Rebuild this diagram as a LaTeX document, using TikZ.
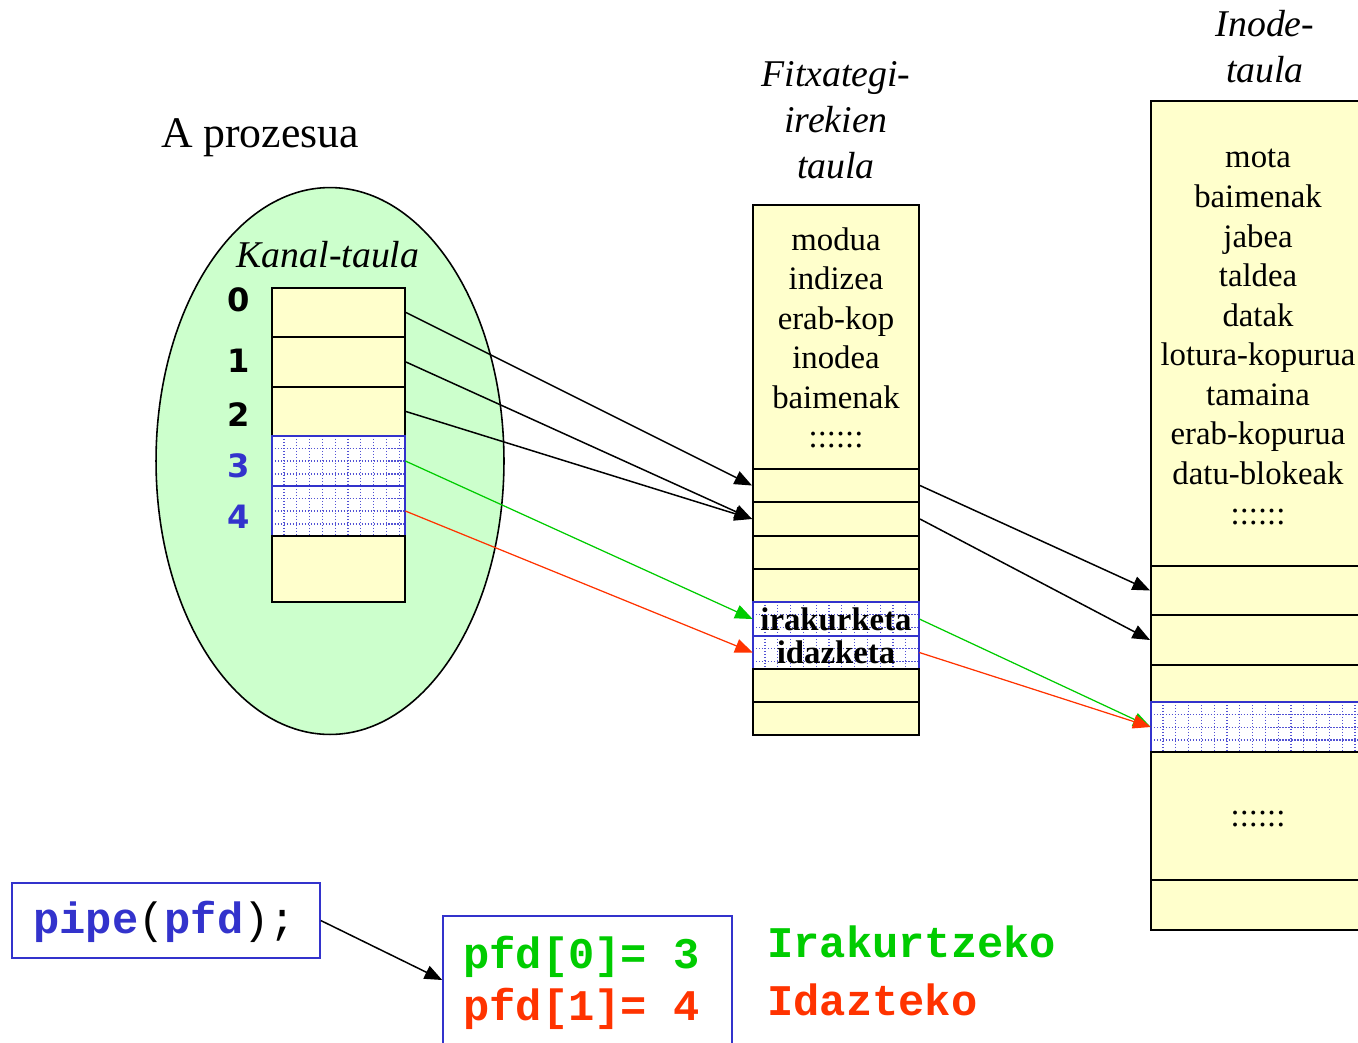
\documentclass[tikz,border=0pt]{standalone}
\usepackage{fontspec}
\setmainfont{Liberation Serif}
\newfontfamily\codefont{Liberation Mono}
\newfontfamily\idxfont{DejaVu Sans}
\usetikzlibrary{arrows.meta,fit,shapes.geometric}

\definecolor{cellyellow}{HTML}{FFFFCC}
\definecolor{procgreen}{HTML}{CCFFCC}
\definecolor{kblue}{HTML}{3333CC}
\definecolor{kgreen}{HTML}{00CC00}
\definecolor{kred}{HTML}{FF3300}

\tikzset{
  cell/.style={draw=black, line width=1.1pt, fill=cellyellow, inner sep=0pt},
  hcellfill/.style={fill=white, inner sep=0pt},
  hcellborder/.style={draw=kblue, line width=1.1pt},
  hatchline/.style={draw=kblue!85, line width=0.7pt, dash pattern=on 0.8pt off 0.9pt},
  link/.style={line width=0.85pt, -{Triangle[length=10pt,width=8pt]}},
  readlink/.style={link, draw=kgreen, fill=kgreen, line width=0.7pt},
  writelink/.style={link, draw=kred, fill=kred, line width=0.7pt},
  codebox/.style={draw=kblue, line width=0.9pt, fill=white, inner sep=0pt},
  tabletext/.style={font=\fontsize{18.66pt}{22.53pt}\selectfont, align=center, inner sep=0pt, anchor=north},
  titletext/.style={font=\fontsize{21.5pt}{26.18pt}\selectfont\itshape, align=center, inner sep=0pt, anchor=north},
  idx/.style={font=\idxfont\bfseries\fontsize{18.3pt}{22pt}\selectfont, inner sep=0pt},
  code/.style={font=\codefont\bfseries\fontsize{24.9pt}{30pt}\selectfont, inner sep=0pt, anchor=base west},
}

% a table cell filled with a dotted blue grid
\newcommand\hatchedcell[5]{%
  \node[hcellfill, fit={(#2,#3) (#4,#5)}] (#1) {};
  \begin{scope}
    \clip (#2,#3) rectangle (#4,#5);
    \foreach \gi in {1,...,20} {
      \draw[hatchline] ({#2+12.8*\gi-0.8},#3) -- ({#2+12.8*\gi-0.8},#5);
    }
    \foreach \gj in {1,...,4} {
      \draw[hatchline] (#2,{#3+12.8*\gj-0.5}) -- (#4,{#3+12.8*\gj-0.5});
    }
  \end{scope}
  \draw[hcellborder] (#1.north west) rectangle (#1.south east);
}

\begin{document}
\begin{tikzpicture}[x=0.02cm, y=-0.02cm]
\clip (0,0) rectangle (1358,1042);
\fill[white] (0,0) rectangle (1358,1042);

% ---------- process with its channel table ----------
\node[font=\fontsize{24.9pt}{30pt}\selectfont, inner sep=0pt, anchor=base] (ptitle) at (260,147) {A prozesua};
\node[ellipse, draw=black, line width=0.9pt, fill=procgreen, minimum width=6.96cm, minimum height=10.94cm, inner sep=0pt] (proc) at (330,461) {};
\node[font=\fontsize{21.5pt}{26pt}\selectfont\itshape, inner sep=0pt, anchor=base] (ktitle) at (328,267) {Kanal-taula};

\node[cell, fit={(272,288) (405,337)}] (k0) {};
\node[cell, fit={(272,337) (405,387)}] (k1) {};
\node[cell, fit={(272,387) (405,436)}] (k2) {};
\hatchedcell{k3}{272}{436}{405}{486}
\hatchedcell{k4}{272}{486}{405}{536}
\node[cell, fit={(272,536) (405,602)}] (k5) {};

\node[idx] (l0) at (239,300) {0};
\node[idx] (l1) at (239,361) {1};
\node[idx] (l2) at (239,415) {2};
\node[idx, text=kblue] (l3) at (239,466) {3};
\node[idx, text=kblue] (l4) at (239,517) {4};

% ---------- open file table ----------
\node[titletext] (ftitle) at (836,53.8) {\strut Fitxategi-\\irekien\\taula};
\node[cell, fit={(753,205) (919,469)}] (fhead) {};
\node[tabletext] (ftext) at (836,222) {\strut modua\\indizea\\erab-kop\\inodea\\baimenak\\::::::};
\node[cell, fit={(753,469) (919,502)}] (f0) {};
\node[cell, fit={(753,502) (919,536)}] (f1) {};
\node[cell, fit={(753,536) (919,569)}] (f2) {};
\node[cell, fit={(753,569) (919,602)}] (f3) {};
\hatchedcell{f4}{753}{602}{919}{636}
\hatchedcell{f5}{753}{636}{919}{669}
\node[cell, fit={(753,669) (919,702)}] (f6) {};
\node[cell, fit={(753,702) (919,735)}] (f7) {};
\node[font=\fontsize{18.66pt}{22pt}\selectfont\bfseries, inner sep=0pt] (rd) at (f4.center) {irakurketa};
\node[font=\fontsize{18.66pt}{22pt}\selectfont\bfseries, inner sep=0pt] (wr) at (f5.center) {idazketa};

% ---------- inode table ----------
\node[titletext] (ititle) at (1265,3.8) {\strut Inode-\\taula};
\node[cell, fit={(1151,101) (1366,566)}] (ihead) {};
\node[tabletext] (itext) at (1258,139.8) {\strut mota\\baimenak\\jabea\\taldea\\datak\\lotura-kopurua\\tamaina\\erab-kopurua\\datu-blokeak\\::::::};
\node[cell, fit={(1151,566) (1366,615)}] (i0) {};
\node[cell, fit={(1151,615) (1366,665)}] (i1) {};
\node[cell, fit={(1151,665) (1366,702)}] (i2) {};
\hatchedcell{i3}{1151}{702}{1366}{752}
\node[cell, fit={(1151,752) (1366,880)}] (i4) {};
\node[font=\fontsize{18.66pt}{22pt}\selectfont, inner sep=0pt] (idots) at (1258,819) {::::::};
\node[cell, fit={(1151,880) (1366,930)}] (i5) {};

% ---------- connectors ----------
\draw[link] (k0.east) -- (f0.west);
\draw[link] (k1.east) -- (f1.west);
\draw[link] (k2.east) -- (f1.west);
\draw[readlink] (k3.east) -- (f4.west);
\draw[writelink] (k4.east) -- (f5.west);
\draw[link] (f0.east) -- (i0.west);
\draw[link] (f1.east) -- (i1.west);
\draw[readlink] (f4.east) -- (i3.west);
\draw[writelink] (f5.east) -- (i3.west);

% ---------- pipe call and its result ----------
\node[codebox, fit={(12,883) (320,958)}] (pipe) {};
\node[code] (pipetext) at (33,933) {\textcolor{kblue}{pipe}\mdseries(\bfseries\textcolor{kblue}{pfd}\mdseries);};
\node[codebox, fit={(443,916) (732,1044)}] (pfd) {};
\node[code, text=kgreen] (pfd0) at (463,968) {pfd[0]= 3};
\node[code, text=kred] (pfd1) at (463,1020) {pfd[1]= 4};
\node[code, text=kgreen] (readlbl) at (767,957) {Irakurtzeko};
\node[code, text=kred] (writelbl) at (767,1015) {Idazteko};
\draw[link] (pipe.east) -- (pfd.west);
\end{tikzpicture}
\end{document}
